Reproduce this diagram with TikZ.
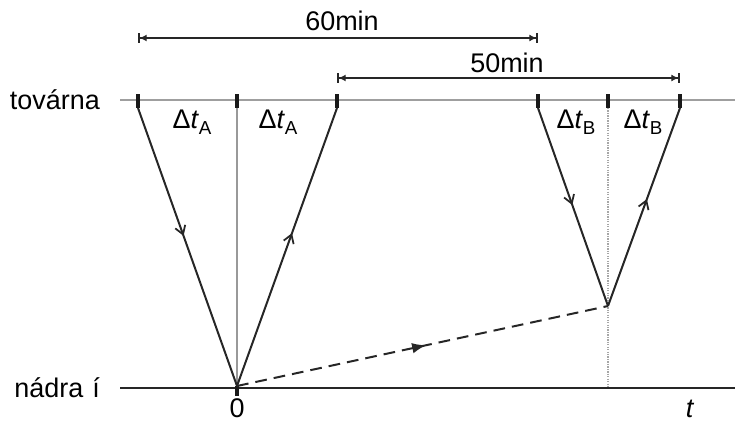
\documentclass[tikz,border=0pt]{standalone}
\usepackage{fontspec}
\setmainfont{Liberation Sans}
\usetikzlibrary{arrows.meta, decorations.markings}

\newcommand{\dtlabel}[1]{Δ\textit{t}\raisebox{-0.4ex}{\fontsize{16}{16}\selectfont #1}}

\begin{document}
\begin{tikzpicture}[x=0.03cm, y=-0.03cm,
    every node/.style={font=\fontsize{23}{26}\selectfont},
    axisline/.style={gray!75, line width=1.3pt},
    worldline/.style={black!85, line width=1.7pt},
    tickmark/.style={black!90, line width=3.4pt},
    dimline/.style={black!85, line width=1.1pt,
      {Bar[width=8pt,line width=1.4pt]Latex[length=6pt,width=6pt]}-{Latex[length=6pt,width=6pt]Bar[width=8pt,line width=1.4pt]}},
    midarrow/.style={postaction={decorate}, decoration={markings,
      mark=at position #1 with {\arrow{Straight Barb[length=7pt,width=9pt,line width=1.5pt]}}}},
    midfilled/.style={postaction={decorate}, decoration={markings,
      mark=at position #1 with {\arrow{Latex[length=12pt,width=9pt]}}}}]
    \useasboundingbox (0,0) rectangle (735,422);

    % --- Osy (továrna a nádraží) ---
    \coordinate (topL) at (120,100);
    \coordinate (topR) at (735,100);
    \coordinate (botL) at (120,388);
    \coordinate (botR) at (735,388);
    \draw[axisline] (topL) -- (topR);
    \draw[black!85, line width=1.3pt] (botL) -- (botR);
    \node[anchor=east] (tovarna) at (104,100) {továrna};
    \node[anchor=east] (nadrazi) at (104,388) {nádra\,\,í};

    % --- Značky na ose továrny ---
    \foreach \name/\px in {a1/138, a2/237, a3/337, b1/538, b2/608, b3/680} {
      \coordinate (\name top) at (\px,94);
      \coordinate (\name) at (\px,108);
      \draw[tickmark] (\name top) -- (\name);
    }

    % --- Události dole ---
    \coordinate (zero) at (237,386);
    \coordinate (zerotick) at (237,396);
    \coordinate (meet) at (608,306);
    \draw[tickmark] (zero) -- (zerotick);
    \node[inner sep=0pt, anchor=base] (zerolabel) at (237,417) {0};
    \node[inner sep=0pt, anchor=base] (tlabel) at (690,417) {\textit{t}};

    % --- Svislice ---
    \draw[gray!80, line width=1pt] (a2) -- (zero);
    \draw[gray!70, line width=1.1pt, densely dotted] (b2) -- (608,388);

    % --- Signály A ---
    \draw[worldline, midarrow=0.46] (a1) -- (zero);
    \draw[worldline, midarrow=0.55] (zero) -- (a3);

    % --- Signály B ---
    \draw[worldline, midarrow=0.49] (b1) -- (meet);
    \draw[worldline, midarrow=0.54] (meet) -- (b3);

    % --- Pohyb z nádraží ---
    \draw[worldline, dash pattern=on 10pt off 6pt, midfilled=0.51] (zero) -- (meet);

    % --- Popisky intervalů ---
    \node (dtA1) at (192,122) {\dtlabel{A}};
    \node (dtA2) at (278,122) {\dtlabel{A}};
    \node (dtB1) at (576,122) {\dtlabel{B}};
    \node (dtB2) at (643,122) {\dtlabel{B}};

    % --- Kóty 60min a 50min ---
    \coordinate (d60L) at (138,38);
    \coordinate (d60R) at (538,38);
    \coordinate (d50L) at (337,78);
    \coordinate (d50R) at (680,78);
    \draw[dimline] (d60L) -- (d60R);
    \draw[dimline] (d50L) -- (d50R);
    \node (label60) at (342,21) {60min};
    \node (label50) at (507,63) {50min};
  \end{tikzpicture}
\end{document}
